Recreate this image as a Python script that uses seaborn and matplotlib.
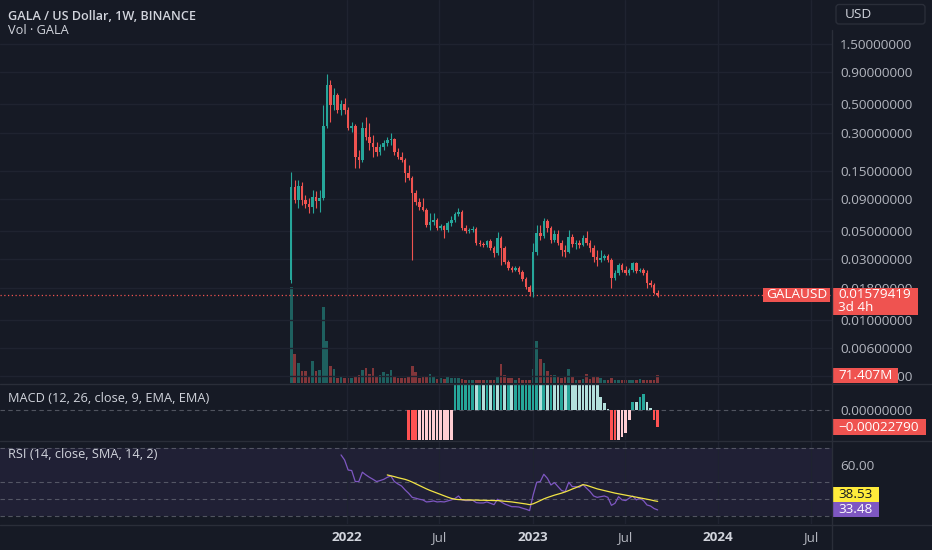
import numpy as np
import pandas as pd
import matplotlib
matplotlib.use("Agg")
import matplotlib.pyplot as plt
import matplotlib.dates as mdates
import matplotlib.ticker as mticker
from matplotlib.patches import Rectangle, FancyBboxPatch
import seaborn as sns

# GALA / USD weekly candles (Binance), first week 2021-09-13
first_week = "2021-09-13"
opens = [0.0207, 0.112, 0.0883, 0.114, 0.0883, 0.0821, 0.0777, 0.0931, 0.0867, 0.0915,
         0.338, 0.711, 0.494, 0.593, 0.452, 0.503, 0.452, 0.326, 0.338, 0.193,
         0.182, 0.326, 0.277, 0.248, 0.230, 0.211, 0.230, 0.248, 0.262, 0.267,
         0.211, 0.193, 0.182, 0.144, 0.132, 0.100, 0.0851, 0.0777, 0.0736, 0.0561,
         0.0592, 0.0614, 0.0531, 0.0551, 0.0512, 0.0582, 0.0614, 0.0684, 0.0710, 0.0531,
         0.0503, 0.0512, 0.0522, 0.0404, 0.0397, 0.0390, 0.0419, 0.0369, 0.0337, 0.0443,
         0.0369, 0.0286, 0.0257, 0.0248, 0.0257, 0.0239, 0.0211, 0.0182, 0.0166, 0.0343,
         0.0485, 0.0460, 0.0603, 0.0531, 0.0427, 0.0477, 0.0404, 0.0356, 0.0343, 0.0451,
         0.0397, 0.0404, 0.0390, 0.0443, 0.0404, 0.0369, 0.0314, 0.0297, 0.0308, 0.0319,
         0.0297, 0.0215, 0.0234, 0.0271, 0.0248, 0.0234, 0.0248, 0.0281, 0.0243, 0.0248,
         0.0234, 0.0196, 0.0189, 0.0163]
highs = [0.147, 0.127, 0.127, 0.122, 0.0966, 0.0915, 0.106, 0.104, 0.106, 0.494,
         0.868, 0.778, 0.673, 0.615, 0.542, 0.562, 0.476, 0.363, 0.350, 0.219,
         0.363, 0.397, 0.357, 0.287, 0.253, 0.243, 0.262, 0.277, 0.298, 0.272,
         0.227, 0.211, 0.189, 0.166, 0.137, 0.106, 0.0915, 0.0915, 0.0763, 0.0697,
         0.0697, 0.0637, 0.0571, 0.0561, 0.0603, 0.0660, 0.0710, 0.0763, 0.0736, 0.0561,
         0.0531, 0.0551, 0.0541, 0.0427, 0.0412, 0.0427, 0.0435, 0.0383, 0.0494, 0.0460,
         0.0383, 0.0297, 0.0266, 0.0266, 0.0266, 0.0248, 0.0218, 0.0189, 0.0404, 0.0561,
         0.0561, 0.0637, 0.0625, 0.0551, 0.0512, 0.0512, 0.0427, 0.0390, 0.0512, 0.0477,
         0.0427, 0.0427, 0.0468, 0.0503, 0.0427, 0.0390, 0.0356, 0.0356, 0.0331, 0.0331,
         0.0308, 0.0248, 0.0281, 0.0281, 0.0266, 0.0257, 0.0286, 0.0286, 0.0257, 0.0257,
         0.0248, 0.0207, 0.0196, 0.0172]
lows = [0.0196, 0.0836, 0.0763, 0.0806, 0.0763, 0.0697, 0.0697, 0.0763, 0.0710, 0.0883,
        0.326, 0.363, 0.452, 0.427, 0.412, 0.419, 0.314, 0.303, 0.157, 0.157,
        0.175, 0.262, 0.219, 0.193, 0.196, 0.200, 0.219, 0.235, 0.239, 0.200,
        0.185, 0.175, 0.122, 0.127, 0.0297, 0.0806, 0.0736, 0.0723, 0.0541, 0.0512,
        0.0561, 0.0512, 0.0512, 0.0443, 0.0494, 0.0551, 0.0592, 0.0660, 0.0512, 0.0485,
        0.0485, 0.0494, 0.0390, 0.0383, 0.0376, 0.0376, 0.0356, 0.0314, 0.0325, 0.0271,
        0.0276, 0.0248, 0.0239, 0.0243, 0.0230, 0.0203, 0.0175, 0.0154, 0.0151, 0.0325,
        0.0427, 0.0443, 0.0494, 0.0404, 0.0412, 0.0390, 0.0319, 0.0314, 0.0337, 0.0376,
        0.0363, 0.0369, 0.0383, 0.0390, 0.0343, 0.0286, 0.0266, 0.0286, 0.0297, 0.0286,
        0.0179, 0.0207, 0.0226, 0.0239, 0.0226, 0.0226, 0.0239, 0.0234, 0.0239, 0.0226,
        0.0179, 0.0182, 0.0160, 0.0151]
closes = [0.112, 0.0883, 0.114, 0.0883, 0.0821, 0.0777, 0.0931, 0.0867, 0.0915, 0.338,
          0.711, 0.494, 0.593, 0.452, 0.503, 0.452, 0.326, 0.338, 0.193, 0.182,
          0.326, 0.277, 0.248, 0.230, 0.211, 0.230, 0.248, 0.262, 0.267, 0.211,
          0.193, 0.182, 0.144, 0.132, 0.100, 0.0851, 0.0777, 0.0736, 0.0561, 0.0592,
          0.0614, 0.0531, 0.0551, 0.0512, 0.0582, 0.0614, 0.0684, 0.0710, 0.0531, 0.0503,
          0.0512, 0.0522, 0.0404, 0.0397, 0.0390, 0.0419, 0.0369, 0.0337, 0.0443, 0.0369,
          0.0286, 0.0257, 0.0248, 0.0257, 0.0239, 0.0211, 0.0182, 0.0166, 0.0343, 0.0485,
          0.0460, 0.0603, 0.0531, 0.0427, 0.0477, 0.0404, 0.0356, 0.0343, 0.0451, 0.0397,
          0.0404, 0.0390, 0.0443, 0.0404, 0.0369, 0.0314, 0.0297, 0.0308, 0.0319, 0.0297,
          0.0215, 0.0234, 0.0271, 0.0248, 0.0234, 0.0248, 0.0281, 0.0243, 0.0248, 0.0234,
          0.0196, 0.0189, 0.0163, 0.01579419]
# volume in millions of GALA
volumes = [864, 258, 180, 108, 108, 60, 198, 108, 114, 684,
           378, 153, 129, 48, 54, 45, 48, 48, 60, 69,
           114, 138, 84, 138, 60, 69, 99, 84, 114, 63,
           45, 45, 45, 54, 156, 99, 48, 54, 54, 84,
           60, 36, 42, 36, 54, 48, 48, 42, 36, 24,
           24, 24, 30, 30, 24, 24, 24, 30, 54, 174,
           69, 48, 48, 30, 48, 30, 30, 30, 129, 375,
           213, 180, 108, 69, 69, 54, 48, 54, 129, 54,
           30, 30, 36, 78, 36, 54, 60, 48, 30, 30,
           42, 24, 30, 24, 24, 24, 24, 24, 36, 24,
           24, 30, 30, 71.407]
# MACD histogram, aligned to the last candles
macd_hist = [-0.0050, -0.0065, -0.0072, -0.0068, -0.0060, -0.0052, -0.0045, -0.0038, -0.0030, -0.0022,
             -0.0015, -0.0009, -0.0004, 0.0006, 0.0012, 0.0016, 0.0019, 0.0021, 0.0023, 0.0022,
             0.0024, 0.0023, 0.0025, 0.0024, 0.0025, 0.0023, 0.0024, 0.0022, 0.0023, 0.0021,
             0.0022, 0.0024, 0.0026, 0.0028, 0.0030, 0.0036, 0.0048, 0.0046, 0.0052, 0.0049,
             0.0050, 0.0047, 0.0043, 0.0044, 0.0040, 0.0041, 0.0037, 0.0033, 0.0028, 0.0023,
             0.0018, 0.0013, 0.0008, 0.0004, 0.000178, 0.000094, 0.00002, -0.0005, -0.0006, -0.00045,
             -0.00036, -0.00031, -0.00013, 0.000112, 0.000105, 0.000179, 0.000215, 0.000112, 0.000022, -0.000134,
             -0.0002279]
# RSI(14) and its SMA(14), aligned to the last candles
rsi_vals = [65.9, 62.9, 57.0, 56.7, 50.2, 50.2, 55.7, 54.1, 52.7, 51.5,
            50.2, 50.8, 51.5, 52.7, 53.5, 50.2, 48.8, 47.6, 45.3, 43.3,
            40.9, 40.4, 39.8, 39.4, 38.2, 38.4, 38.8, 38.2, 38.4, 38.2,
            38.8, 39.4, 40.2, 41.7, 39.4, 39.0, 39.0, 39.2, 37.8, 37.6,
            37.6, 38.2, 37.4, 36.6, 39.8, 38.2, 37.0, 36.2, 35.4, 35.4,
            35.2, 34.5, 33.9, 33.1, 42.3, 49.8, 50.2, 54.5, 52.1, 48.2,
            49.6, 47.2, 44.9, 44.3, 49.8, 47.2, 47.2, 46.8, 48.4, 46.3,
            44.3, 41.7, 40.9, 41.3, 41.7, 40.9, 36.2, 37.4, 41.3, 39.4,
            39.0, 40.4, 41.7, 39.4, 40.4, 39.0, 36.4, 35.8, 34.3, 33.48]
rsi_ma = [54.1, 53.6, 53.1, 52.5, 52.0, 51.5, 50.8, 49.9, 48.9, 47.9,
          46.9, 45.9, 45.0, 44.2, 43.4, 42.6, 41.8, 41.0, 40.3, 39.8,
          39.6, 39.5, 39.4, 39.4, 39.3, 39.3, 39.2, 39.2, 39.1, 39.1,
          39.0, 39.0, 38.8, 38.6, 38.4, 38.2, 37.9, 37.6, 37.3, 37.0,
          36.6, 37.1, 38.0, 39.0, 40.0, 40.8, 41.5, 42.2, 42.8, 43.4,
          44.1, 44.9, 45.8, 46.6, 47.5, 48.4, 48.0, 47.3, 46.6, 45.9,
          45.4, 44.9, 44.4, 43.9, 43.4, 43.0, 42.6, 42.2, 41.8, 41.4,
          41.0, 40.6, 40.2, 39.8, 39.4, 38.9, 38.53]

price_ticks = [1.5, 0.9, 0.5, 0.3, 0.15, 0.09, 0.05, 0.03, 0.018, 0.01, 0.006, 0.0036]
rsi_levels = [70, 50, 40, 30]
time_ticks = ["2022-01-01", "2022-07-01", "2023-01-01", "2023-07-01", "2024-01-01", "2024-07-01"]
time_labels = ["2022", "Jul", "2023", "Jul", "2024", "Jul"]

BG = "#161a25"
GRID = "#1f2330"
SEP = "#2a2e39"
TXT = "#b2b5be"
TITLE = "#d1d4dc"
UP = "#26a69a"
DOWN = "#ef5350"
RSI_COL = "#7e57c2"
MA_COL = "#f2e445"

sns.set_theme(style="dark", rc={"axes.facecolor": BG, "figure.facecolor": BG,
                                "savefig.facecolor": BG, "axes.edgecolor": BG,
                                "text.color": TXT, "xtick.color": TXT, "ytick.color": TXT})
plt.rcParams["font.family"] = ["Open Sans", "DejaVu Sans"]

W, H = 932, 550
fig = plt.figure(figsize=(W / 100, H / 100), dpi=100)


def frame(top, bottom, right=832):
    return [0, 1 - bottom / H, right / W, (bottom - top) / H]


axv = fig.add_axes(frame(0, 383))
ax = fig.add_axes(frame(0, 383), sharex=axv)
axm = fig.add_axes(frame(384, 440), sharex=axv)
axr = fig.add_axes(frame(441, 524), sharex=axv)
ax.patch.set_visible(False)

dates = pd.date_range(first_week, periods=len(closes), freq="7D")
x = mdates.date2num(dates)
o, h, l, c = map(np.array, (opens, highs, lows, closes))
up = c >= o
cols = np.where(up, UP, DOWN)

# volume (overlay at bottom of price pane)
axv.bar(x, volumes, width=5.2, color=cols, alpha=0.5, linewidth=0)
axv.set_ylim(0, 3456)
axv.set_yticks([])

# candles
ax.set_yscale("log")
ax.vlines(x, l, h, colors=cols, lw=0.8, zorder=3)
lo = np.minimum(o, c)
hi = np.maximum(np.maximum(o, c), lo * 1.012)
ax.bar(x, hi - lo, bottom=lo, width=5.0, color=cols, linewidth=0, zorder=4)
ax.axhline(c[-1], color=DOWN, lw=0.9, ls=(0, (1, 2)), zorder=2)
for p in price_ticks:
    ax.axhline(p, color=GRID, lw=1, zorder=0)
ax.set_ylim(0.00319, 3.325)
ax.set_yticks(price_ticks, [f"{p:.8f}" for p in price_ticks])
ax.yaxis.set_minor_locator(mticker.NullLocator())

# MACD histogram
hist = np.array(macd_hist)
hx = x[-len(hist):]
prev = np.r_[np.inf, hist[:-1]]
rising = hist > prev
hcols = np.where(hist >= 0, np.where(rising, "#26a69a", "#b2dfdb"),
                 np.where(rising, "#ffcdd2", "#ff5252"))
axm.bar(hx, hist, width=5.3, color=hcols, linewidth=0, zorder=3)
axm.axhline(0, color="#787b86", lw=0.8, ls=(0, (4, 3)), alpha=0.6, zorder=2)
axm.set_ylim(-0.000402, 0.000349)
axm.set_yticks([0], ["0.00000000"])

# RSI
axr.axhspan(30, 70, color=RSI_COL, alpha=0.1, lw=0, zorder=0)
for lvl in rsi_levels:
    axr.axhline(lvl, color="#787b86", lw=0.8, ls=(0, (4, 3)), alpha=0.6, zorder=1)
sns.lineplot(x=x[-len(rsi_vals):], y=rsi_vals, ax=axr, color=RSI_COL, linewidth=0.9, zorder=3)
sns.lineplot(x=x[-len(rsi_ma):], y=rsi_ma, ax=axr, color=MA_COL, linewidth=0.9, zorder=4)
axr.set_ylim(25.2, 74.1)
axr.set_yticks([60], ["60.00"])

tick_x = mdates.date2num(pd.to_datetime(time_ticks))
for a in (ax, axm, axr):
    for t in tick_x:
        a.axvline(t, color=GRID, lw=1, zorder=0)
    a.yaxis.tick_right()
    a.tick_params(axis="y", which="both", length=0, pad=6, labelsize=9.7, labelcolor=TXT)

for a in (axv, ax, axm, axr):
    for s in a.spines.values():
        s.set_visible(False)
    a.set_xlabel("")
    a.set_ylabel("")
    a.tick_params(axis="x", length=0, labelbottom=False)

axr.set_xticks(tick_x, time_labels)
axr.set_xlim(mdates.date2num(pd.Timestamp("2020-02-18")), mdates.date2num(pd.Timestamp("2024-08-12")))
axr.tick_params(axis="x", labelbottom=True, pad=5, labelsize=9.7, labelcolor=TXT)
for lbl in axr.get_xticklabels():
    if lbl.get_text().isdigit():
        lbl.set_fontweight("bold")
        lbl.set_color(TITLE)

# overlay in pixel coordinates for separators and labels
ov = fig.add_axes([0, 0, 1, 1])
ov.set_xlim(0, W)
ov.set_ylim(H, 0)
ov.axis("off")
ov.set_zorder(10)
for yy in (383.5, 440.5, 524.5):
    ov.plot([0, W], [yy, yy], color=SEP, lw=1)
ov.plot([832, 832], [30, H], color=SEP, lw=1)

ov.text(8, 16, "GALA / US Dollar, 1W, BINANCE", fontsize=9.1, fontweight="semibold",
        color=TITLE, va="center")
ov.text(8, 31, "Vol · GALA", fontsize=9.2, color=TITLE, va="center")
ov.text(8, 398, "MACD (12, 26, close, 9, EMA, EMA)", fontsize=9.2, color=TITLE, va="center")
ov.text(8, 454, "RSI (14, close, SMA, 14, 2)", fontsize=9.2, color=TITLE, va="center")

ov.add_patch(FancyBboxPatch((836, 4.5), 89, 19.5, boxstyle="round,pad=0,rounding_size=3",
                            fc=BG, ec=SEP, lw=1))
ov.text(845, 14.5, "USD", fontsize=9.7, color=TITLE, va="center")


def px_y(a, v):
    return H - a.transData.transform((a.get_xlim()[0], v))[1]


def tag(x0, yc, w, hgt, text, fc, tc="white", tx=None):
    ov.add_patch(Rectangle((x0, yc - hgt / 2), w, hgt, fc=fc, ec="none"))
    ov.text(x0 + 6 if tx is None else tx, yc, text, fontsize=9.7, color=tc, va="center",
            ha="left" if tx is None else "center")


y_close = px_y(ax, c[-1])
tag(763, y_close, 67, 14, "GALAUSD", DOWN, tx=796.5)
ov.add_patch(Rectangle((832, y_close - 7), 86, 27, fc=DOWN, ec="none"))
ov.text(838, y_close, f"{c[-1]:.8f}", fontsize=9.7, color="white", va="center")
ov.text(838, y_close + 12.5, "3d 4h", fontsize=9.7, color="white", va="center")

y_vol = px_y(axv, volumes[-1])
tag(832, y_vol, 66, 15, f"{volumes[-1]:.3f}M", DOWN)
y_h = px_y(axm, hist[-1])
tag(832, y_h, 94, 16, f"{hist[-1]:.8f}".replace("-", "\u2212"), DOWN)
y_rsi = px_y(axr, rsi_vals[-1])
y_ma = min(px_y(axr, rsi_ma[-1]), y_rsi - 15)
tag(832, y_ma, 47, 15, f"{rsi_ma[-1]:.2f}", "#ffeb3b", tc="#131722")
tag(832, y_rsi, 47, 15, f"{rsi_vals[-1]:.2f}", RSI_COL)

fig.savefig("out.png", dpi=100, facecolor=BG)
